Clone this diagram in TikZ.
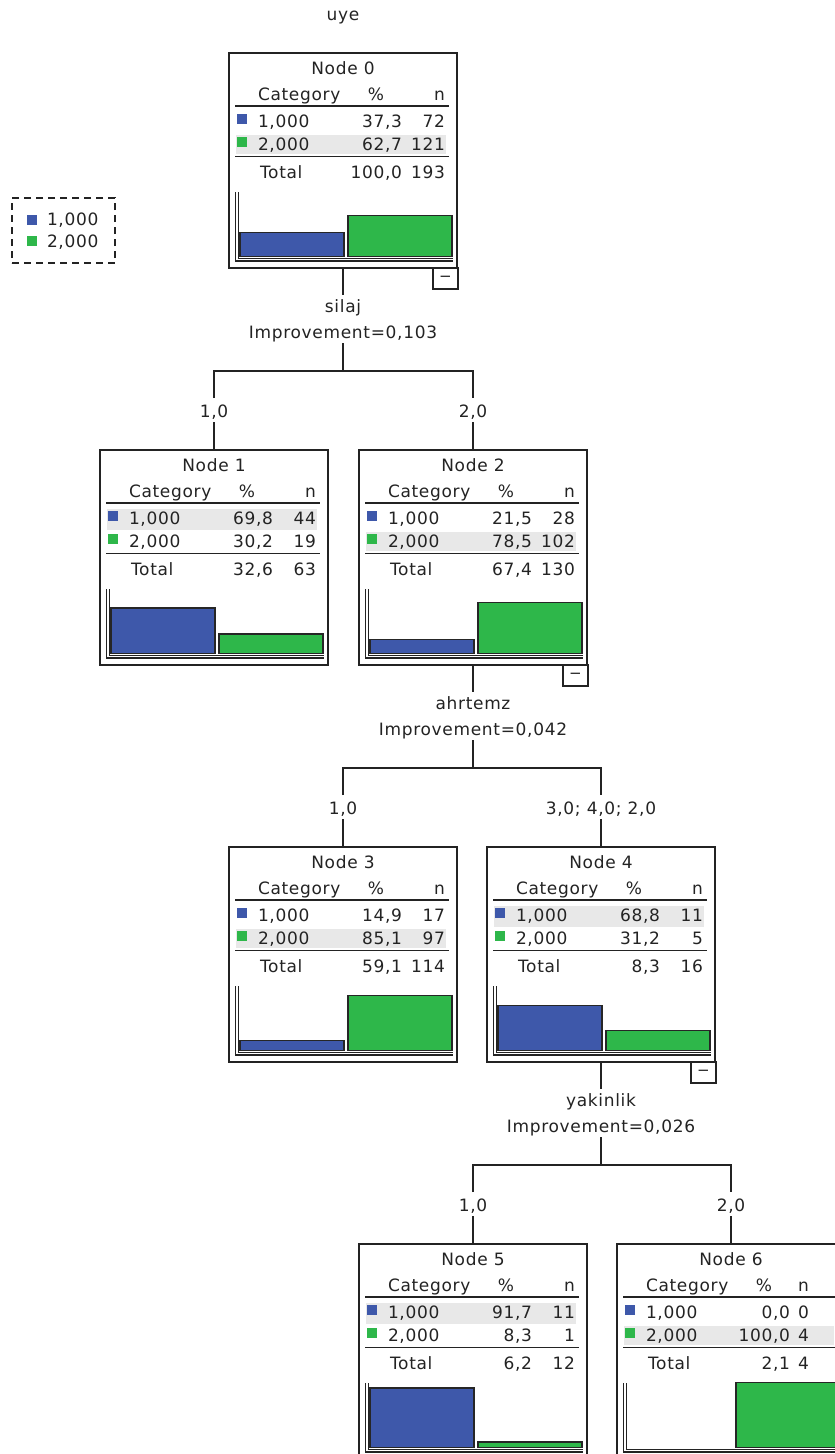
\documentclass[tikz,border=0pt]{standalone}
\usepackage{fontspec}
\setmainfont[LetterSpace=4]{DejaVu Sans}
\definecolor{catA}{RGB}{62,88,170}
\definecolor{catB}{RGB}{46,183,74}
\definecolor{bandc}{RGB}{232,232,232}
\definecolor{inkc}{RGB}{35,35,35}
\tikzset{
  txt/.style={inner sep=0pt, outer sep=0pt, text height=12pt, text depth=3pt,
              font=\fontsize{17}{20}\selectfont, text=inkc},
  nodebox/.style={draw=inkc, line width=1.6pt, minimum width=228pt, minimum height=215pt,
                  inner sep=0pt, outer sep=0pt},
  collbox/.style={draw=inkc, fill=white, line width=1.5pt, minimum width=25pt, minimum height=21pt,
                  inner sep=0pt, outer sep=0pt, font=\fontsize{15}{15}\selectfont, text=inkc},
  conn/.style={draw=inkc, line width=1.6pt},
  rulel/.style={draw=inkc, line width=1.3pt},
  axisl/.style={draw=inkc, line width=1.1pt},
  band/.style={fill=bandc},
  barA/.style={fill=catA, draw=black!85, line width=1.3pt},
  barB/.style={fill=catB, draw=black!85, line width=1.3pt},
  legendbox/.style={draw=inkc, line width=1.3pt, dash pattern=on 7pt off 5pt},
}
\newcommand\NodeData[8]{%
  \def\dPa{#1}\def\dNa{#2}\def\dPb{#3}\def\dNb{#4}\def\dPt{#5}\def\dNt{#6}\def\dHa{#7}\def\dHb{#8}}
% #1 id, #2 L, #3 T, #4 highlighted row, #5 collapse box, #6 n-column right edge
\newcommand\TreeNode[6]{%
  \ifnum#4=1 \def\bandT{59}\def\bandB{80}\else\def\bandT{82}\def\bandB{101}\fi
  \begin{scope}[shift={(#2,#3)}]
    \fill[band] (7,\bandT) rectangle (217,\bandB);
    \node[nodebox] (n#1) at (114,107.5) {};
    \node[txt] (n#1title) at (114,17) {Node #1};
    \node[txt,anchor=west] (n#1hcat) at (29,43) {Category};
    \node[txt] (n#1hpct) at (147,43) {\%};
    \node[txt,anchor=east] (n#1hn) at (#6,43) {n};
    \draw[rulel] (6,53) -- (220,53);
    \fill[catA] (8,61) rectangle (18,71);
    \node[txt,anchor=west] (n#1ca) at (29,70) {1,000};
    \node[txt,anchor=east] (n#1pa) at (173,70) {\dPa};
    \node[txt,anchor=east] (n#1na) at (#6,70) {\dNa};
    \fill[catB] (8,84) rectangle (18,94);
    \node[txt,anchor=west] (n#1cb) at (29,93) {2,000};
    \node[txt,anchor=east] (n#1pb) at (173,93) {\dPb};
    \node[txt,anchor=east] (n#1nb) at (#6,93) {\dNb};
    \draw[rulel, line width=1.9pt] (6,103.5) -- (220,103.5);
    \node[txt,anchor=west] (n#1ct) at (31,121) {Total};
    \node[txt,anchor=east] (n#1pt) at (173,121) {\dPt};
    \node[txt,anchor=east] (n#1nt) at (#6,121) {\dNt};
    \draw[axisl] (6.5,139) -- (6.5,208) -- (224,208);
    \draw[axisl] (9.5,139) -- (9.5,205.5) -- (224,205.5);
    \ifdim\dHa pt>0pt \draw[barA] (11,203.5) rectangle (115,{203.5-0.65*\dHa}); \fi
    \ifdim\dHb pt>0pt \draw[barB] (119,203.5) rectangle (223,{203.5-0.65*\dHb}); \fi
    \ifnum#5=1 \node[collbox] (n#1c) at (216.5,225.5) {−}; \fi
  \end{scope}}
\begin{document}
\begin{tikzpicture}[x=1pt,y=-1pt]
\useasboundingbox (0,0) rectangle (835,1454);
\fill[white] (0,0) rectangle (835,1454);
\clip (0,0) rectangle (835,1454);

% title
\node[txt] (title) at (343,16) {uye};

% legend
\node[legendbox, minimum width=103pt, minimum height=65pt, inner sep=0pt] (legend) at (63.5,230.5) {};
\fill[catA] (27,215) rectangle (37,225);
\node[txt,anchor=west] (legA) at (47,221) {1,000};
\fill[catB] (27,236) rectangle (37,246);
\node[txt,anchor=west] (legB) at (47,243) {2,000};

% nodes
\NodeData{37,3}{72}{62,7}{121}{100,0}{193}{37.3}{62.7}
\TreeNode{0}{229}{53}{2}{1}{216}
\NodeData{69,8}{44}{30,2}{19}{32,6}{63}{69.8}{30.2}
\TreeNode{1}{100}{450}{1}{0}{216}
\NodeData{21,5}{28}{78,5}{102}{67,4}{130}{21.5}{78.5}
\TreeNode{2}{359}{450}{2}{1}{216}
\NodeData{14,9}{17}{85,1}{97}{59,1}{114}{14.9}{85.1}
\TreeNode{3}{229}{847}{2}{0}{216}
\NodeData{68,8}{11}{31,2}{5}{8,3}{16}{68.8}{31.2}
\TreeNode{4}{487}{847}{1}{1}{216}
\NodeData{91,7}{11}{8,3}{1}{6,2}{12}{91.7}{8.3}
\TreeNode{5}{359}{1244}{1}{0}{216}
\NodeData{0,0}{0}{100,0}{4}{2,1}{4}{0}{100}
\TreeNode{6}{617}{1244}{2}{0}{192}

% split 0 -> 1,2   (B = 268)
\node[txt] (v0) at (343,308) {silaj};
\node[txt] (i0) at (343,334) {Improvement=0,103};
\coordinate (j0) at (343,371);
\node[txt] (b1) at (214,413) {1,0};
\node[txt] (b2) at (473,413) {2,0};
\draw[conn, shorten >=5.5pt] (n0.south) -- (v0.north);
\draw[conn, shorten <=1.5pt] (i0.south) -- (j0);
\draw[conn, shorten <=7.5pt, shorten >=7.5pt] (b1.north) |- (j0) -| (b2.north);
\draw[conn, shorten <=1.5pt] (b1.south) -- (n1.north);
\draw[conn, shorten <=1.5pt] (b2.south) -- (n2.north);

% split 2 -> 3,4   (B = 665)
\node[txt] (v2) at (473,705) {ahrtemz};
\node[txt] (i2) at (473,731) {Improvement=0,042};
\coordinate (j2) at (473,768);
\node[txt] (b3) at (343,810) {1,0};
\node[txt] (b4) at (601,810) {3,0; 4,0; 2,0};
\draw[conn, shorten >=5.5pt] (n2.south) -- (v2.north);
\draw[conn, shorten <=1.5pt] (i2.south) -- (j2);
\draw[conn, shorten <=7.5pt, shorten >=7.5pt] (b3.north) |- (j2) -| (b4.north);
\draw[conn, shorten <=1.5pt] (b3.south) -- (n3.north);
\draw[conn, shorten <=1.5pt] (b4.south) -- (n4.north);

% split 4 -> 5,6   (B = 1062)
\node[txt] (v4) at (601,1102) {yakinlik};
\node[txt] (i4) at (601,1128) {Improvement=0,026};
\coordinate (j4) at (601,1165);
\node[txt] (b5) at (473,1207) {1,0};
\node[txt] (b6) at (731,1207) {2,0};
\draw[conn, shorten >=5.5pt] (n4.south) -- (v4.north);
\draw[conn, shorten <=1.5pt] (i4.south) -- (j4);
\draw[conn, shorten <=7.5pt, shorten >=7.5pt] (b5.north) |- (j4) -| (b6.north);
\draw[conn, shorten <=1.5pt] (b5.south) -- (n5.north);
\draw[conn, shorten <=1.5pt] (b6.south) -- (n6.north);
\end{tikzpicture}
\end{document}
